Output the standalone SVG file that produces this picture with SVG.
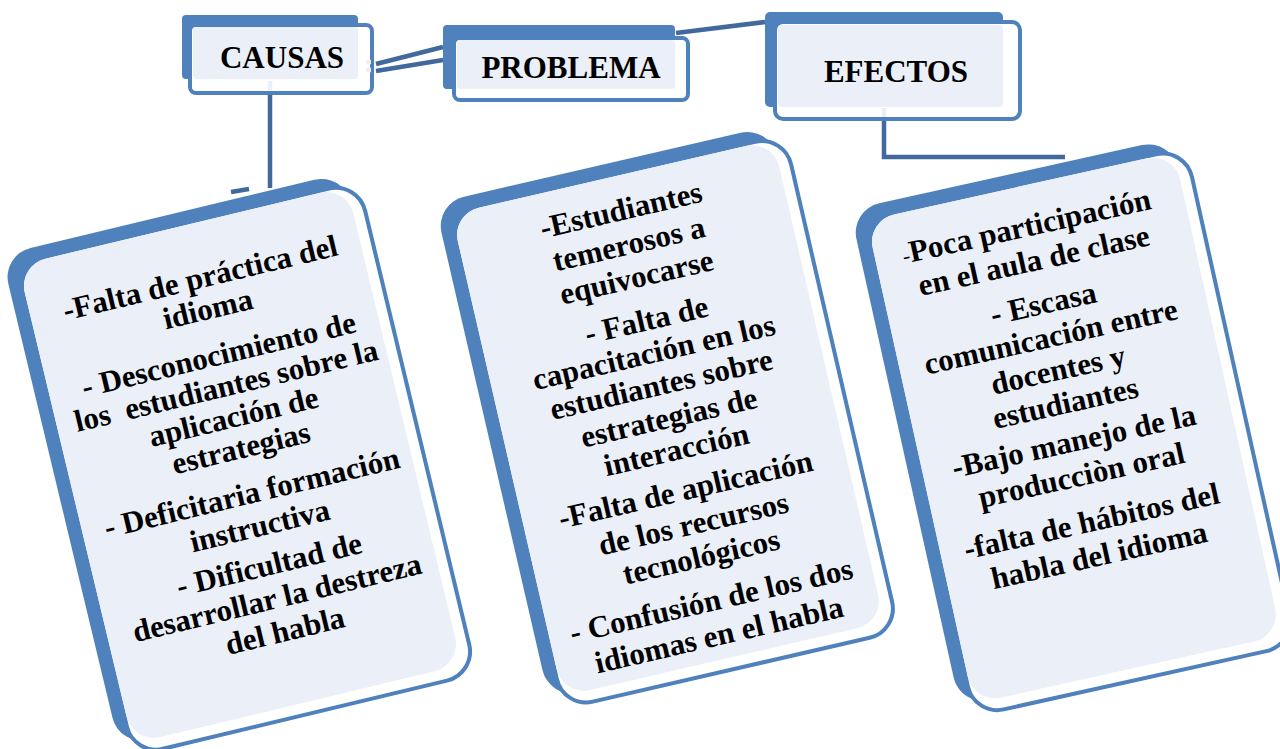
<svg xmlns="http://www.w3.org/2000/svg" width="1280" height="749" viewBox="0 0 1280 749">
<style>
.back{fill:#4F81BD}
.front{fill:#FFFFFF;stroke:#4F81BD;stroke-width:4}
.light{fill:#EBF0F8}
.hdr{font-family:"Liberation Serif","Times New Roman",serif;font-weight:bold;font-size:31px;fill:#000;text-anchor:middle}
.txt{font-family:"Liberation Serif","Times New Roman",serif;font-weight:bold;font-size:31px;fill:#000;text-anchor:middle}
.con{fill:none;stroke:#41699D;stroke-width:4.5}
.conl{fill:none;stroke:#EBF0F8;stroke-width:4.5}
</style>
<rect width="1280" height="749" fill="#FFFFFF"/>
<g id="connectors">
<line class="con" x1="376" y1="64" x2="443" y2="47"/>
<line class="con" x1="376" y1="71" x2="443" y2="60"/>
<line class="con" x1="676" y1="33" x2="765" y2="22"/>
<path class="con" d="M270,93 V188"/>
<path class="con" d="M231,192 L249,189"/>
<path class="con" d="M884,119 V157 H1065"/>
</g>
<g id="causas">
<rect class="back" x="182" y="15" width="176" height="64" rx="4"/>
<rect class="front" x="190" y="25" width="182" height="68" rx="6"/>
<rect class="light" x="193" y="27" width="165" height="52" rx="3"/>
<line class="conl" x1="366" y1="62" x2="371" y2="62"/>
<line class="conl" x1="366" y1="70" x2="371" y2="70"/>
<line class="conl" x1="270" y1="81" x2="270" y2="90"/>
<text class="hdr" x="282" y="68">CAUSAS</text>
</g>
<g id="problema">
<rect class="back" x="443" y="25" width="232" height="64" rx="4"/>
<rect class="front" x="454" y="38" width="234" height="62" rx="6"/>
<rect class="light" x="457" y="40" width="218" height="49" rx="3"/>
<text class="hdr" x="571" y="78">PROBLEMA</text>
</g>
<g id="efectos">
<rect class="back" x="765" y="12" width="238" height="95" rx="5"/>
<rect class="front" x="775" y="22" width="245" height="97" rx="8"/>
<rect class="light" x="778" y="25" width="225" height="82" rx="4"/>
<line class="conl" x1="884" y1="108" x2="884" y2="117"/>
<text class="hdr" x="896" y="82">EFECTOS</text>
</g>
<g id="card-causas" transform="translate(240,465) rotate(-13.5)">
<rect class="back" x="-183" y="-260" width="352" height="506" rx="30"/>
<rect class="front" x="-171" y="-248" width="352" height="506" rx="30"/>
<rect class="light" x="-169" y="-246" width="338" height="492" rx="28"/>
<text class="txt" x="5" y="-181">-Falta de práctica del</text>
<text class="txt" x="5" y="-149">idioma</text>
<text class="txt" x="5" y="-102">- Desconocimiento de</text>
<text class="txt" x="5" y="-70" xml:space="preserve">los  estudiantes sobre la</text>
<text class="txt" x="5" y="-38">aplicación de</text>
<text class="txt" x="5" y="-6">estrategias</text>
<text class="txt" x="5" y="40">- Deficitaria formación</text>
<text class="txt" x="5" y="74">instructiva</text>
<text class="txt" x="5" y="114">- Dificultad de</text>
<text class="txt" x="5" y="148">desarrollar la destreza</text>
<text class="txt" x="5" y="182">del habla</text>
</g>
<g id="card-problema" transform="translate(668,418) rotate(-13)">
<rect class="back" x="-179" y="-261.5" width="344" height="509" rx="30"/>
<rect class="front" x="-167" y="-249.5" width="344" height="509" rx="30"/>
<rect class="light" x="-165" y="-247.5" width="330" height="495" rx="28"/>
<text class="txt" x="1" y="-203">-Estudiantes</text>
<text class="txt" x="1" y="-168">temerosos a</text>
<text class="txt" x="1" y="-134">equivocarse</text>
<text class="txt" x="1" y="-90">- Falta de</text>
<text class="txt" x="1" y="-57">capacitación en los</text>
<text class="txt" x="1" y="-24">estudiantes sobre</text>
<text class="txt" x="1" y="10">estrategias de</text>
<text class="txt" x="1" y="43">interacción</text>
<text class="txt" x="1" y="84">-Falta de aplicación</text>
<text class="txt" x="1" y="119">de los recursos</text>
<text class="txt" x="1" y="153">tecnológicos</text>
<text class="txt" x="1" y="198">- Confusión de los dos</text>
<text class="txt" x="1" y="233">idiomas en el habla</text>
</g>
<g id="card-efectos" transform="translate(1074,428) rotate(-12.5)">
<rect class="back" x="-171.5" y="-261.5" width="329" height="509" rx="30"/>
<rect class="front" x="-159.5" y="-249.5" width="329" height="509" rx="30"/>
<rect class="light" x="-157.5" y="-247.5" width="315" height="495" rx="28"/>
<text class="txt" x="-3" y="-197"><tspan font-weight="normal" font-size="22">-</tspan>Poca participación</text>
<text class="txt" x="-3" y="-162">en el aula de clase</text>
<text class="txt" x="-3" y="-118">- Escasa</text>
<text class="txt" x="-3" y="-84">comunicación entre</text>
<text class="txt" x="-3" y="-50">docentes y</text>
<text class="txt" x="-3" y="-16">estudiantes</text>
<text class="txt" x="-3" y="23">-Bajo manejo de la</text>
<text class="txt" x="-3" y="58">producciòn oral</text>
<text class="txt" x="-3" y="105">-falta de hábitos del</text>
<text class="txt" x="-3" y="140">habla del idioma</text>
</g>
</svg>
